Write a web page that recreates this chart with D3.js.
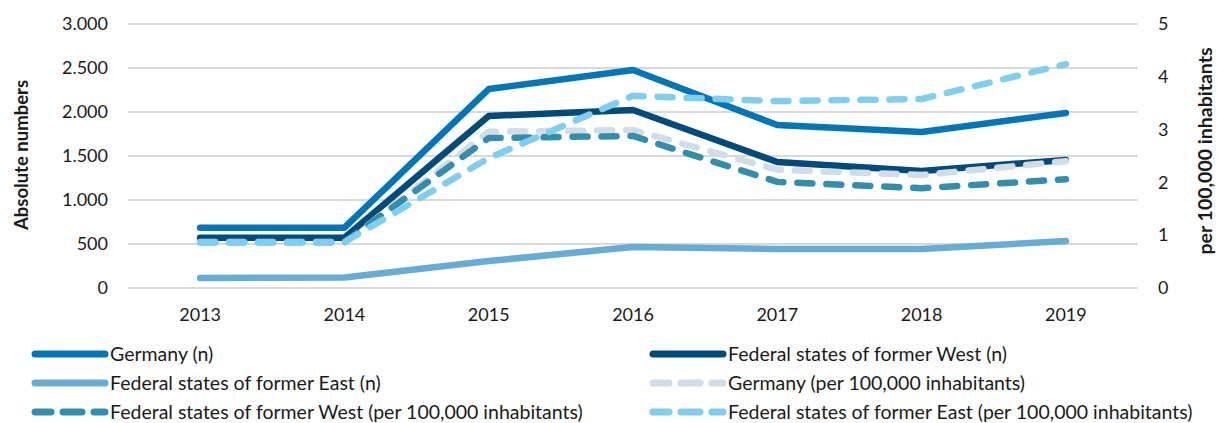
<!DOCTYPE html>
<html>
<head>
<meta charset="utf-8">
<script src="https://cdn.jsdelivr.net/npm/d3@7"></script>
<style>
  html, body { margin: 0; padding: 0; background: #fff; }
  svg { display: block; font-family: Lato, "Open Sans", sans-serif; }
</style>
</head>
<body>
<svg id="chart" width="1218" height="423"></svg>
<script>
// Years on the category axis
const years = ["2013", "2014", "2015", "2016", "2017", "2018", "2019"];

// Absolute numbers (left axis)
const germanyN = [686, 686, 2261, 2477, 1852, 1773, 1989];
const westN    = [572, 572, 1955, 2023, 1432, 1330, 1455];
const eastN    = [114, 120, 307, 466, 443, 443, 534];

// Rates per 100,000 inhabitants (right axis)
const germanyRate = [0.85, 0.85, 2.96, 2.99, 2.24, 2.14, 2.40];
const westRate    = [0.87, 0.87, 2.84, 2.88, 2.01, 1.89, 2.06];
const eastRate    = [0.87, 0.87, 2.46, 3.64, 3.54, 3.58, 4.24];

// Axis tick values
const leftTicks  = [0, 500, 1000, 1500, 2000, 2500, 3000];
const rightTicks = [0, 1, 2, 3, 4, 5];

const series = [
  { name: "Germany (n)", values: germanyN, axis: "left", color: "#0076b6", dashed: false },
  { name: "Federal states of former West (n)", values: westN, axis: "left", color: "#004b7a", dashed: false },
  { name: "Federal states of former East (n)", values: eastN, axis: "left", color: "#66acd4", dashed: false },
  { name: "Germany (per 100,000 inhabitants)", values: germanyRate, axis: "right", color: "#d0dde7", dashed: true },
  { name: "Federal states of former West (per 100,000 inhabitants)", values: westRate, axis: "right", color: "#338eab", dashed: true },
  { name: "Federal states of former East (per 100,000 inhabitants)", values: eastRate, axis: "right", color: "#80ceed", dashed: true }
];

const svg = d3.select("#chart");
const plot = { left: 128, right: 1138, top: 24, bottom: 288 };

const x = d3.scaleBand().domain(years).range([plot.left, plot.right]);
const yL = d3.scaleLinear().domain([0, 3000]).range([plot.bottom, plot.top]);
const yR = d3.scaleLinear().domain([0, 5]).range([plot.bottom, plot.top]);

const fmtLeft = d3.formatLocale({ decimal: ",", thousands: ".", grouping: [3], currency: ["", "€"] }).format(",");

// Gridlines
svg.append("g")
  .selectAll("line")
  .data(leftTicks)
  .join("line")
  .attr("x1", plot.left).attr("x2", plot.right)
  .attr("y1", d => yL(d)).attr("y2", d => yL(d))
  .attr("stroke", "#d9d9d9").attr("stroke-width", 2);

// Left axis
const leftAxis = svg.append("g")
  .attr("transform", `translate(${plot.left - 20},0)`)
  .call(d3.axisLeft(yL).tickValues(leftTicks).tickFormat(fmtLeft).tickSize(0).tickPadding(0));
leftAxis.select(".domain").remove();
leftAxis.selectAll("text").attr("font-size", 18).attr("fill", "#1a1a1a").attr("font-family", "Lato, sans-serif");

// Right axis
const rightAxis = svg.append("g")
  .attr("transform", `translate(${plot.right + 20},0)`)
  .call(d3.axisRight(yR).tickValues(rightTicks).tickFormat(d3.format("d")).tickSize(0).tickPadding(0));
rightAxis.select(".domain").remove();
rightAxis.selectAll("text").attr("font-size", 18).attr("fill", "#1a1a1a").attr("font-family", "Lato, sans-serif");

// Bottom axis
const bottomAxis = svg.append("g")
  .attr("transform", `translate(0,${plot.bottom + 20})`)
  .call(d3.axisBottom(x).tickSize(0).tickPadding(0));
bottomAxis.select(".domain").remove();
bottomAxis.selectAll("text").attr("font-size", 18).attr("fill", "#1a1a1a").attr("font-family", "Lato, sans-serif");

// Axis titles
svg.append("text")
  .attr("transform", `translate(28,${(plot.top + plot.bottom) / 2 - 1}) rotate(-90)`)
  .attr("text-anchor", "middle")
  .attr("font-size", 18.5).attr("font-weight", "bold").attr("fill", "#1a1a1a")
  .text("Absolute numbers");
svg.append("text")
  .attr("transform", `translate(1212,${(plot.top + plot.bottom) / 2 - 5}) rotate(-90)`)
  .attr("text-anchor", "middle")
  .attr("font-size", 19.5).attr("font-weight", "bold").attr("fill", "#1a1a1a")
  .text("per 100,000 inhabitants");

// Lines
const cx = d => x(d) + x.bandwidth() / 2;
series.forEach(s => {
  const yScale = s.axis === "left" ? yL : yR;
  const line = d3.line()
    .x((d, i) => cx(years[i]))
    .y(d => yScale(d));
  svg.append("path")
    .datum(s.values)
    .attr("d", line)
    .attr("fill", "none")
    .attr("stroke", s.color)
    .attr("stroke-width", 6.5)
    .attr("stroke-linejoin", "round")
    .attr("stroke-linecap", "round")
    .attr("stroke-dasharray", s.dashed ? "15 14" : null);
});

// Legend: two columns, three rows
const legend = svg.append("g");
series.forEach((s, k) => {
  const col = k % 2, row = Math.floor(k / 2);
  const lx = col === 0 ? 35 : 653;
  const ly = 354 + row * 29;
  const g = legend.append("g").attr("transform", `translate(${lx},${ly})`);
  g.append("line")
    .attr("x1", 0).attr("x2", 70).attr("y1", 0).attr("y2", 0)
    .attr("stroke", s.color).attr("stroke-width", 7)
    .attr("stroke-linecap", "round")
    .attr("stroke-dasharray", s.dashed ? "16 12 19 12 12" : null);
  g.append("text")
    .attr("x", 75).attr("y", 0).attr("dy", "0.35em")
    .attr("font-size", 19.5).attr("fill", "#1a1a1a")
    .text(s.name);
});
</script>
</body>
</html>
